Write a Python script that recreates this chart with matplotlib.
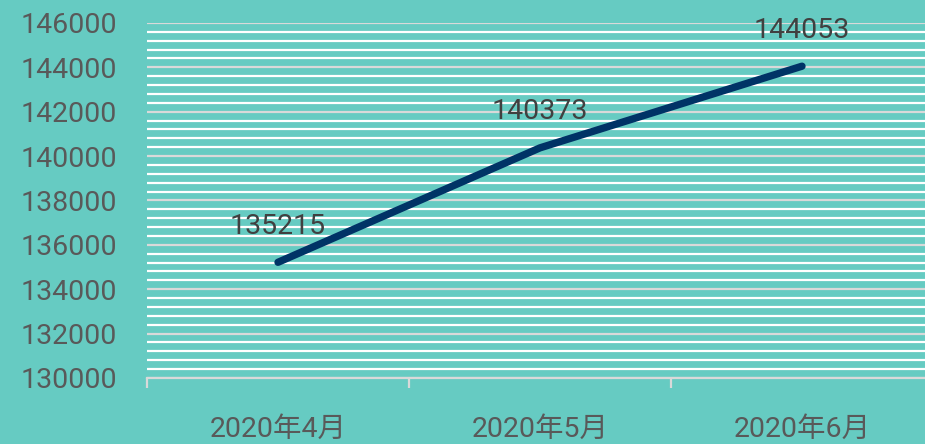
import matplotlib
matplotlib.use('Agg')
import matplotlib.pyplot as plt
import numpy as np

# data
months = ['2020年4月', '2020年5月', '2020年6月']
values = [135215, 140373, 144053]
y_ticks = [130000, 132000, 134000, 136000, 138000, 140000, 142000, 144000, 146000]

bg = '#66CBC2'
navy = '#003366'
txt = '#595959'
fs = 20.5

plt.rcParams['font.family'] = ['Roboto', 'Noto Sans CJK SC', 'DejaVu Sans']

fig = plt.figure(figsize=(9.25, 4.44), dpi=100, facecolor=bg)
ax = fig.add_axes([147 / 925, 66 / 444, 786 / 925, 355 / 444])
ax.set_facecolor(bg)

ax.set_xlim(-0.5, len(months) - 0.5)
ax.set_ylim(y_ticks[0], y_ticks[-1])

#gridlines: major every 2000 (light gray), minor every 400 (white)
ax.set_yticks(y_ticks)
ax.set_yticks(np.arange(y_ticks[0], y_ticks[-1], 400), minor=True)
ax.grid(axis='y', which='minor', color='white', linewidth=1.6, zorder=0)
ax.grid(axis='y', which='major', color='#D9D9D9', linewidth=1.6, zorder=1)
ax.set_axisbelow(True)

ax.set_xticks(range(len(months)))
ax.set_xticklabels(months)
ax.set_xticks(np.arange(-0.5, len(months) + 0.5, 1), minor=True)

for s in ['top', 'right', 'left']:
    ax.spines[s].set_visible(False)
ax.spines['bottom'].set_color('#D9D9D9')
ax.spines['bottom'].set_linewidth(1.6)

ax.tick_params(axis='y', which='both', length=0, labelsize=fs, labelcolor=txt, pad=21.5)
ax.tick_params(axis='x', which='major', length=0, labelsize=fs, labelcolor=txt, pad=27)
ax.tick_params(axis='x', which='minor', length=7, width=1.6, color='#D9D9D9')

#the line
xs = list(range(len(values)))
ax.plot(xs, values, color=navy, linewidth=5.3, solid_capstyle='round',
        solid_joinstyle='round', zorder=3)

for x, v in zip(xs, values):
    ax.annotate(str(v), (x, v), xytext=(0, 36), textcoords='offset pixels',
                ha='center', va='center', fontsize=fs, color='#404040', zorder=4)

fig.savefig('out.png', dpi=100, facecolor=bg)
